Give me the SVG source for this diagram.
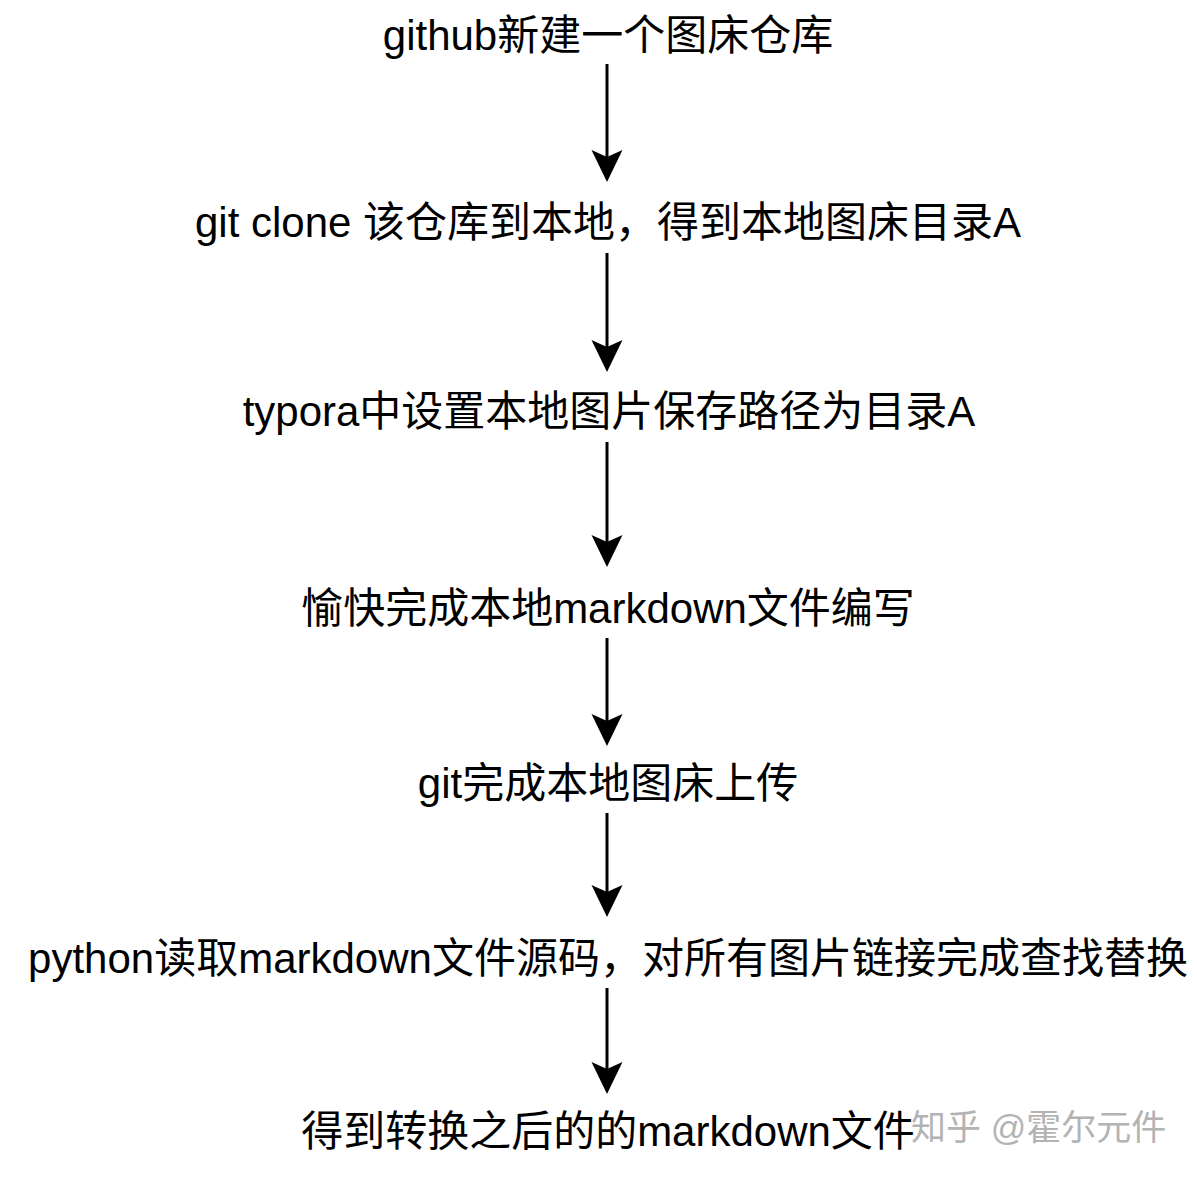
<svg xmlns="http://www.w3.org/2000/svg" width="1197" height="1177" viewBox="0 0 1197 1177">
<style>
.t{font-family:"Liberation Sans","Noto Sans CJK SC",sans-serif;font-size:42px;fill:#000;text-anchor:middle}
.w{font-family:"Liberation Sans","Noto Sans CJK SC",sans-serif;font-size:35px;fill:#b3b3b3;text-anchor:start}
.c{stroke:#000;stroke-width:3;fill:none;marker-end:url(#ah)}
</style>
<defs>
<marker id="ah" markerUnits="userSpaceOnUse" viewBox="-8 -16 34 32" refX="0" refY="0" markerWidth="34" markerHeight="32" orient="auto" overflow="visible">
<path d="M25,0 L-7,-15.5 L0,0 L-7,15.5 Z" fill="#000"/>
</marker>
</defs>
<rect width="1197" height="1177" fill="#fff"/>
<g id="connectors">
<path class="c" d="M607,64 V157"/>
<path class="c" d="M607,253 V347"/>
<path class="c" d="M607,442 V542"/>
<path class="c" d="M607,638 V721"/>
<path class="c" d="M607,813 V892"/>
<path class="c" d="M607,988 V1069"/>
</g>
<g id="n1"><text class="t" x="608" y="50">github新建一个图床仓库</text></g>
<g id="n2"><text class="t" x="608" y="237">git clone 该仓库到本地，得到本地图床目录A</text></g>
<g id="n3"><text class="t" x="609" y="426">typora中设置本地图片保存路径为目录A</text></g>
<g id="n4"><text class="t" x="608" y="623">愉快完成本地markdown文件编写</text></g>
<g id="n5"><text class="t" x="608" y="798">git完成本地图床上传</text></g>
<g id="n6"><text class="t" x="608" y="973">python读取markdown文件源码，对所有图片链接完成查找替换</text></g>
<g id="n7"><text class="t" x="608" y="1146">得到转换之后的的markdown文件</text></g>
<g id="watermark"><text class="w" x="911" y="1140">知乎 @霍尔元件</text></g>
</svg>
